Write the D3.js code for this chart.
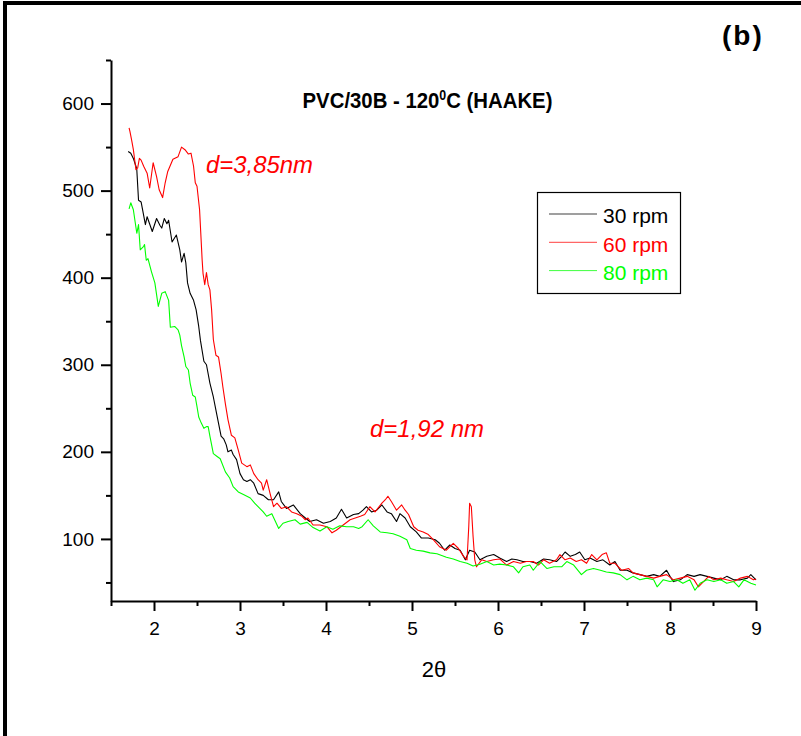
<!DOCTYPE html>
<html>
<head>
<meta charset="utf-8">
<script src="https://cdn.jsdelivr.net/npm/d3@7"></script>
<style>
  body { margin: 0; background: #fff; }
  svg { display: block; }
  text { font-family: "Liberation Sans", Arial, Helvetica, sans-serif; }
</style>
</head>
<body>
<svg id="chart" width="801" height="736"></svg>
<script>
// XRD patterns of PVC/30B processed at 120 °C (HAAKE) — intensity vs 2θ
const theta30 = [1.70,1.73,1.76,1.79,1.80,1.82,1.85,1.90,1.92,1.98,2.03,2.07,2.09,2.12,2.15,2.17,2.21,2.26,2.30,2.32,2.35,2.37,2.39,2.42,2.46,2.49,2.52,2.54,2.58,2.61,2.65,2.69,2.72,2.75,2.78,2.81,2.84,2.86,2.90,2.92,2.96,3.00,3.04,3.08,3.12,3.16,3.21,3.27,3.33,3.39,3.45,3.48,3.54,3.62,3.70,3.76,3.81,3.89,3.97,4.05,4.12,4.18,4.24,4.32,4.38,4.43,4.47,4.53,4.59,4.65,4.71,4.76,4.82,4.86,4.92,4.98,5.05,5.11,5.19,5.27,5.32,5.38,5.44,5.50,5.56,5.62,5.67,5.73,5.79,5.87,5.95,6.02,6.10,6.16,6.22,6.29,6.37,6.45,6.53,6.60,6.68,6.74,6.78,6.84,6.90,6.95,7.01,7.07,7.15,7.22,7.30,7.36,7.42,7.50,7.57,7.65,7.73,7.81,7.88,7.96,8.00,8.04,8.12,8.20,8.28,8.35,8.43,8.51,8.59,8.66,8.74,8.82,8.90,8.94,9.00];
const counts30 = [545,543,537,528,524,489,487,461,470,453,468,460,457,468,462,466,441,449,432,418,428,417,394,382,374,363,344,328,304,300,279,263,248,233,218,215,208,200,202,197,191,175,168,166,168,164,152,150,145,145,154,143,135,139,129,124,120,122,118,120,124,134,124,128,129,133,137,131,133,139,131,129,120,129,124,114,108,101,101,99,95,87,93,89,87,76,87,85,76,80,82,78,74,77,76,74,74,72,77,76,74,80,85,80,82,85,76,78,74,76,70,74,64,64,61,59,57,59,57,64,57,51,53,59,57,59,57,55,53,57,53,53,55,59,53];

const theta60 = [1.71,1.72,1.74,1.76,1.79,1.81,1.83,1.85,1.88,1.92,1.95,1.99,2.03,2.06,2.10,2.13,2.16,2.22,2.28,2.32,2.36,2.40,2.43,2.46,2.48,2.50,2.53,2.56,2.57,2.59,2.61,2.63,2.65,2.67,2.69,2.72,2.75,2.78,2.80,2.83,2.86,2.90,2.94,2.98,3.02,3.08,3.12,3.16,3.21,3.25,3.27,3.31,3.35,3.39,3.43,3.48,3.54,3.60,3.66,3.72,3.76,3.79,3.85,3.93,4.01,4.07,4.12,4.20,4.28,4.34,4.40,4.45,4.51,4.57,4.65,4.69,4.72,4.76,4.82,4.88,4.92,4.96,5.02,5.07,5.13,5.19,5.25,5.32,5.40,5.48,5.54,5.60,5.64,5.66,5.67,5.69,5.71,5.73,5.75,5.81,5.87,5.95,6.02,6.10,6.18,6.26,6.33,6.41,6.47,6.53,6.60,6.68,6.72,6.78,6.84,6.91,6.97,7.03,7.09,7.15,7.21,7.26,7.30,7.36,7.44,7.52,7.57,7.65,7.73,7.81,7.88,7.96,8.04,8.12,8.20,8.28,8.33,8.41,8.45,8.51,8.59,8.66,8.74,8.82,8.90,8.97,9.00];
const counts60 = [572,568,558,547,524,526,537,535,528,520,503,532,516,501,492,509,522,536,539,550,547,542,543,528,509,505,478,420,405,392,406,392,386,363,329,311,309,290,275,255,237,219,216,202,187,183,185,175,168,164,156,168,152,137,141,135,137,131,129,126,122,124,116,116,114,107,110,116,122,124,126,128,137,131,141,145,149,143,133,139,133,128,114,110,108,105,99,91,87,95,89,80,76,114,141,137,103,76,68,76,74,76,77,70,74,72,74,74,70,76,72,76,82,76,78,74,76,72,82,76,82,84,72,72,64,66,61,59,57,55,57,59,53,55,57,53,45,53,57,53,55,53,51,55,57,53,54];

const theta80 = [1.71,1.73,1.76,1.80,1.82,1.84,1.88,1.89,1.91,1.93,1.97,2.01,2.05,2.09,2.13,2.17,2.19,2.24,2.28,2.30,2.32,2.35,2.37,2.40,2.42,2.45,2.48,2.50,2.52,2.55,2.58,2.61,2.63,2.65,2.69,2.73,2.77,2.83,2.88,2.92,2.98,3.04,3.12,3.17,3.23,3.27,3.31,3.37,3.45,3.50,3.56,3.64,3.70,3.78,3.85,3.93,4.01,4.08,4.16,4.24,4.32,4.38,4.42,4.49,4.55,4.63,4.71,4.78,4.86,4.94,4.98,5.05,5.13,5.21,5.29,5.40,5.48,5.56,5.64,5.71,5.79,5.87,5.95,6.02,6.10,6.18,6.24,6.29,6.37,6.41,6.49,6.57,6.65,6.74,6.80,6.88,6.97,7.03,7.11,7.19,7.26,7.34,7.42,7.50,7.57,7.65,7.73,7.81,7.85,7.92,8.00,8.08,8.15,8.23,8.29,8.35,8.43,8.51,8.59,8.66,8.74,8.80,8.86,8.94,9.00];
const counts80 = [479,486,478,451,461,432,436,438,420,422,407,394,367,382,384,374,343,344,340,334,322,309,298,294,279,265,263,252,240,233,227,229,229,218,198,195,192,177,170,160,154,151,147,141,135,131,126,129,112,118,120,122,117,119,113,109,114,111,115,114,114,112,114,122,115,108,107,106,103,99,89,87,86,84,83,79,77,74,72,69,71,74,70,71,70,68,61,68,70,64,74,66,68,68,74,70,59,64,66,64,62,61,59,53,57,53,55,53,45,53,51,53,49,53,41,49,53,51,53,49,51,45,53,49,47];

const seriesNames = ["30 rpm", "60 rpm", "80 rpm"];
const seriesColors = ["#000000", "#ff0000", "#00ff00"];
const seriesData = [[theta30, counts30], [theta60, counts60], [theta80, counts80]];

const xMajorTicks = [2, 3, 4, 5, 6, 7, 8, 9];
const xMinorTicks = [1.5, 2.5, 3.5, 4.5, 5.5, 6.5, 7.5, 8.5];
const yMajorTicks = [100, 200, 300, 400, 500, 600];
const yMinorTicks = [50, 150, 250, 350, 450, 550, 650];

const svg = d3.select("#chart");

// page frame
svg.append("line").attr("x1", 3).attr("x2", 801).attr("y1", 3).attr("y2", 3)
  .attr("stroke", "#000").attr("stroke-width", 4);
svg.append("line").attr("x1", 5).attr("x2", 5).attr("y1", 1).attr("y2", 736)
  .attr("stroke", "#000").attr("stroke-width", 4);

const x = d3.scaleLinear().domain([1.5, 9]).range([111, 756]);
const y = d3.scaleLinear().domain([28.7, 650]).range([601, 60]);

function styleAxis(g) {
  g.select(".domain").attr("stroke", "#000").attr("stroke-width", 2);
  g.selectAll(".tick line").attr("stroke", "#000").attr("stroke-width", 2);
  g.selectAll(".tick text").attr("fill", "#000").style("font-size", "19px")
    .style("font-family", "'Liberation Sans', Arial, sans-serif");
}

// minor ticks first, then major axes with the axis lines
svg.append("g").attr("transform", "translate(0,601)")
  .call(d3.axisBottom(x).tickValues(xMinorTicks).tickSize(5).tickSizeOuter(0).tickFormat(""))
  .call(g => { g.select(".domain").remove(); g.selectAll(".tick line").attr("stroke", "#000").attr("stroke-width", 2); });
svg.append("g").attr("transform", "translate(111,0)")
  .call(d3.axisLeft(y).tickValues(yMinorTicks).tickSize(5).tickSizeOuter(0).tickFormat(""))
  .call(g => { g.select(".domain").remove(); g.selectAll(".tick line").attr("stroke", "#000").attr("stroke-width", 2); });

svg.append("g").attr("transform", "translate(0,601)")
  .call(d3.axisBottom(x).tickValues(xMajorTicks).tickSize(10).tickSizeOuter(0).tickPadding(11).tickFormat(d3.format("d")))
  .call(styleAxis);
svg.append("g").attr("transform", "translate(111,0)")
  .call(d3.axisLeft(y).tickValues(yMajorTicks).tickSize(10).tickSizeOuter(0).tickPadding(7).tickFormat(d3.format("d")))
  .call(styleAxis);

// curves
const line = d3.line().x(d => x(d[0])).y(d => y(d[1]));
seriesData.forEach(([t, c], i) => {
  const pts = t.map((v, k) => [v, c[k]]);
  svg.append("path").datum(pts)
    .attr("fill", "none")
    .attr("stroke", seriesColors[i])
    .attr("stroke-width", 1.1)
    .attr("stroke-linejoin", "round")
    .attr("d", line);
});

// axis title
svg.append("text").attr("x", 434).attr("y", 677).attr("text-anchor", "middle")
  .style("font-size", "22px").text("2θ");

// chart title
const title = svg.append("g").attr("transform", "translate(427.5,108) scale(0.885,1)")
  .append("text").attr("text-anchor", "middle")
  .style("font-size", "23px").style("font-weight", "bold");
title.append("tspan").text("PVC/30B - 120");
title.append("tspan").attr("dy", -8).style("font-size", "14px").text("0");
title.append("tspan").attr("dy", 8).text("C (HAAKE)");

// panel label
svg.append("text").attr("x", 722).attr("y", 45)
  .style("font-size", "28px").style("font-weight", "bold")
  .attr("letter-spacing", 2).text("(b)");

// spacing annotations
svg.append("text").attr("x", 206).attr("y", 173).attr("fill", "#ff0000")
  .style("font-size", "23px").style("font-style", "italic")
  .attr("textLength", 107).attr("lengthAdjust", "spacingAndGlyphs").text("d=3,85nm");
svg.append("text").attr("x", 370).attr("y", 437).attr("fill", "#ff0000")
  .style("font-size", "23px").style("font-style", "italic")
  .attr("textLength", 114).attr("lengthAdjust", "spacingAndGlyphs").text("d=1,92 nm");

// legend
const legend = svg.append("g");
legend.append("rect").attr("x", 537.5).attr("y", 192.5).attr("width", 143).attr("height", 101)
  .attr("fill", "#fff").attr("stroke", "#000").attr("stroke-width", 1.2);
seriesNames.forEach((name, i) => {
  const ly = 214 + i * 28.3;
  legend.append("line").attr("x1", 549).attr("x2", 597).attr("y1", ly).attr("y2", ly)
    .attr("stroke", seriesColors[i]).attr("stroke-width", 1).attr("opacity", 0.75);
  legend.append("text").attr("x", 603).attr("y", ly + 9.3).attr("fill", seriesColors[i])
    .style("font-size", "21px").text(name);
});
</script>
</body>
</html>
